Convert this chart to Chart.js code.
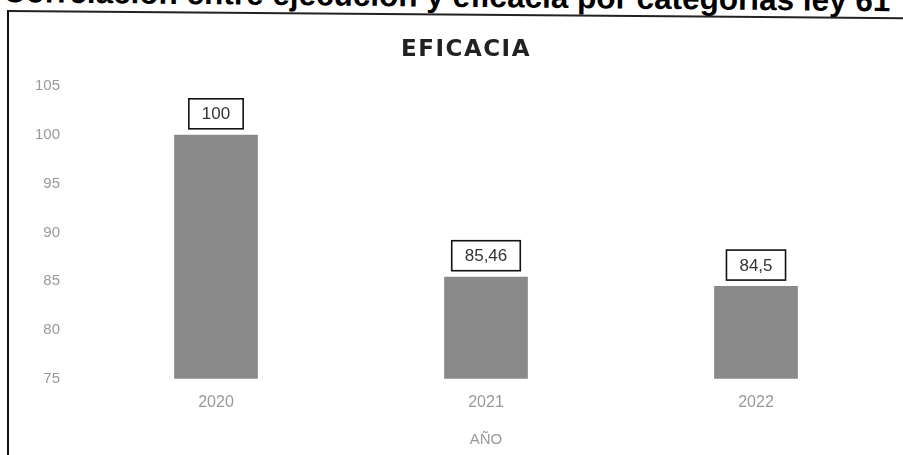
<!DOCTYPE html>
<html>
<head>
<meta charset="utf-8">
<script src="https://cdn.jsdelivr.net/npm/chart.js@4/dist/chart.umd.min.js"></script>
<style>
  html, body { margin: 0; padding: 0; background: #fff; overflow: hidden; }
  #wrap { position: relative; width: 903px; height: 455px; }
  #pageTitle {
    position: absolute; left: 3px; top: -24px; white-space: nowrap;
    font: bold 31.5px "Liberation Sans", Arial, sans-serif; line-height: 31.5px;
    color: #000; transform-origin: 0 0; transform: rotate(0.6deg);
  }
  #frameTop {
    position: absolute; left: 8px; top: 10px; width: 900px; height: 0;
    border-top: 2px solid #222; transform-origin: 0 0; transform: rotate(0.46deg);
  }
  #frameLeft {
    position: absolute; left: 7px; top: 10px; width: 0; height: 445px;
    border-left: 2px solid #111;
  }
  canvas { position: absolute; left: 0; top: 0; }
</style>
</head>
<body>
<div id="wrap">
  <div id="pageTitle">Correlación entre ejecución y eficacia por categorías ley 61</div>
  <div id="frameTop"></div>
  <div id="frameLeft"></div>
  <canvas id="chart" width="903" height="455"></canvas>
</div>
<script>
const years = ['2020', '2021', '2022'];
const eficacia = [100, 85.46, 84.5];
const yMin = 75;
const yMax = 105;
const yStep = 5;
const chartTitle = 'EFICACIA';

const fmt = v => String(v).replace('.', ',');

// titulo con espaciado entre letras + cajas con el valor encima de cada barra
const boxLabels = {
  id: 'boxLabels',
  afterDatasetsDraw(chart) {
    const ctx = chart.ctx;
    const meta = chart.getDatasetMeta(0);
    ctx.save();
    ctx.font = 'bold 23px "DejaVu Sans", sans-serif';
    ctx.letterSpacing = '1.5px';
    ctx.fillStyle = '#222';
    ctx.textAlign = 'center';
    ctx.textBaseline = 'middle';
    ctx.fillText(chartTitle, 466, 50);
    ctx.letterSpacing = '0px';

    ctx.font = '17px "Liberation Sans", Arial, sans-serif';
    meta.data.forEach((bar, i) => {
      const txt = fmt(chart.data.datasets[0].data[i]);
      const w = ctx.measureText(txt).width + 26;
      const h = 30;
      const bottom = bar.y - 6;
      ctx.fillStyle = '#fff';
      ctx.fillRect(bar.x - w / 2, bottom - h, w, h);
      ctx.lineWidth = 1.6;
      ctx.strokeStyle = '#111';
      ctx.strokeRect(bar.x - w / 2, bottom - h, w, h);
      ctx.fillStyle = '#333';
      ctx.fillText(txt, bar.x, bottom - h / 2 + 1);
    });
    ctx.restore();
  }
};

new Chart(document.getElementById('chart').getContext('2d'), {
  type: 'bar',
  data: {
    labels: years,
    datasets: [{
      label: chartTitle,
      data: eficacia,
      backgroundColor: '#8a8a8a',
      borderWidth: 0,
      barPercentage: 0.31,
      categoryPercentage: 1
    }]
  },
  options: {
    responsive: false,
    animation: false,
    events: [],
    layout: { padding: { top: 86, right: 12, bottom: 6, left: 0 } },
    plugins: {
      legend: { display: false },
      tooltip: { enabled: false },
      title: { display: false }
    },
    scales: {
      x: {
        grid: { display: false, drawTicks: false },
        border: { display: false },
        ticks: { color: '#999', padding: 14, font: { family: '"Liberation Sans", Arial, sans-serif', size: 16 } },
        title: {
          display: true, text: 'AÑO', color: '#999',
          font: { family: '"Liberation Sans", Arial, sans-serif', size: 15 },
          padding: { top: 5, bottom: 0 }
        }
      },
      y: {
        min: yMin,
        max: yMax,
        afterFit(scale) { scale.width = 81; },
        grid: { display: false, drawTicks: false },
        border: { display: false },
        ticks: { stepSize: yStep, color: '#999', padding: 21, font: { family: '"Liberation Sans", Arial, sans-serif', size: 15 } }
      }
    }
  },
  plugins: [boxLabels]
});
</script>
</body>
</html>
